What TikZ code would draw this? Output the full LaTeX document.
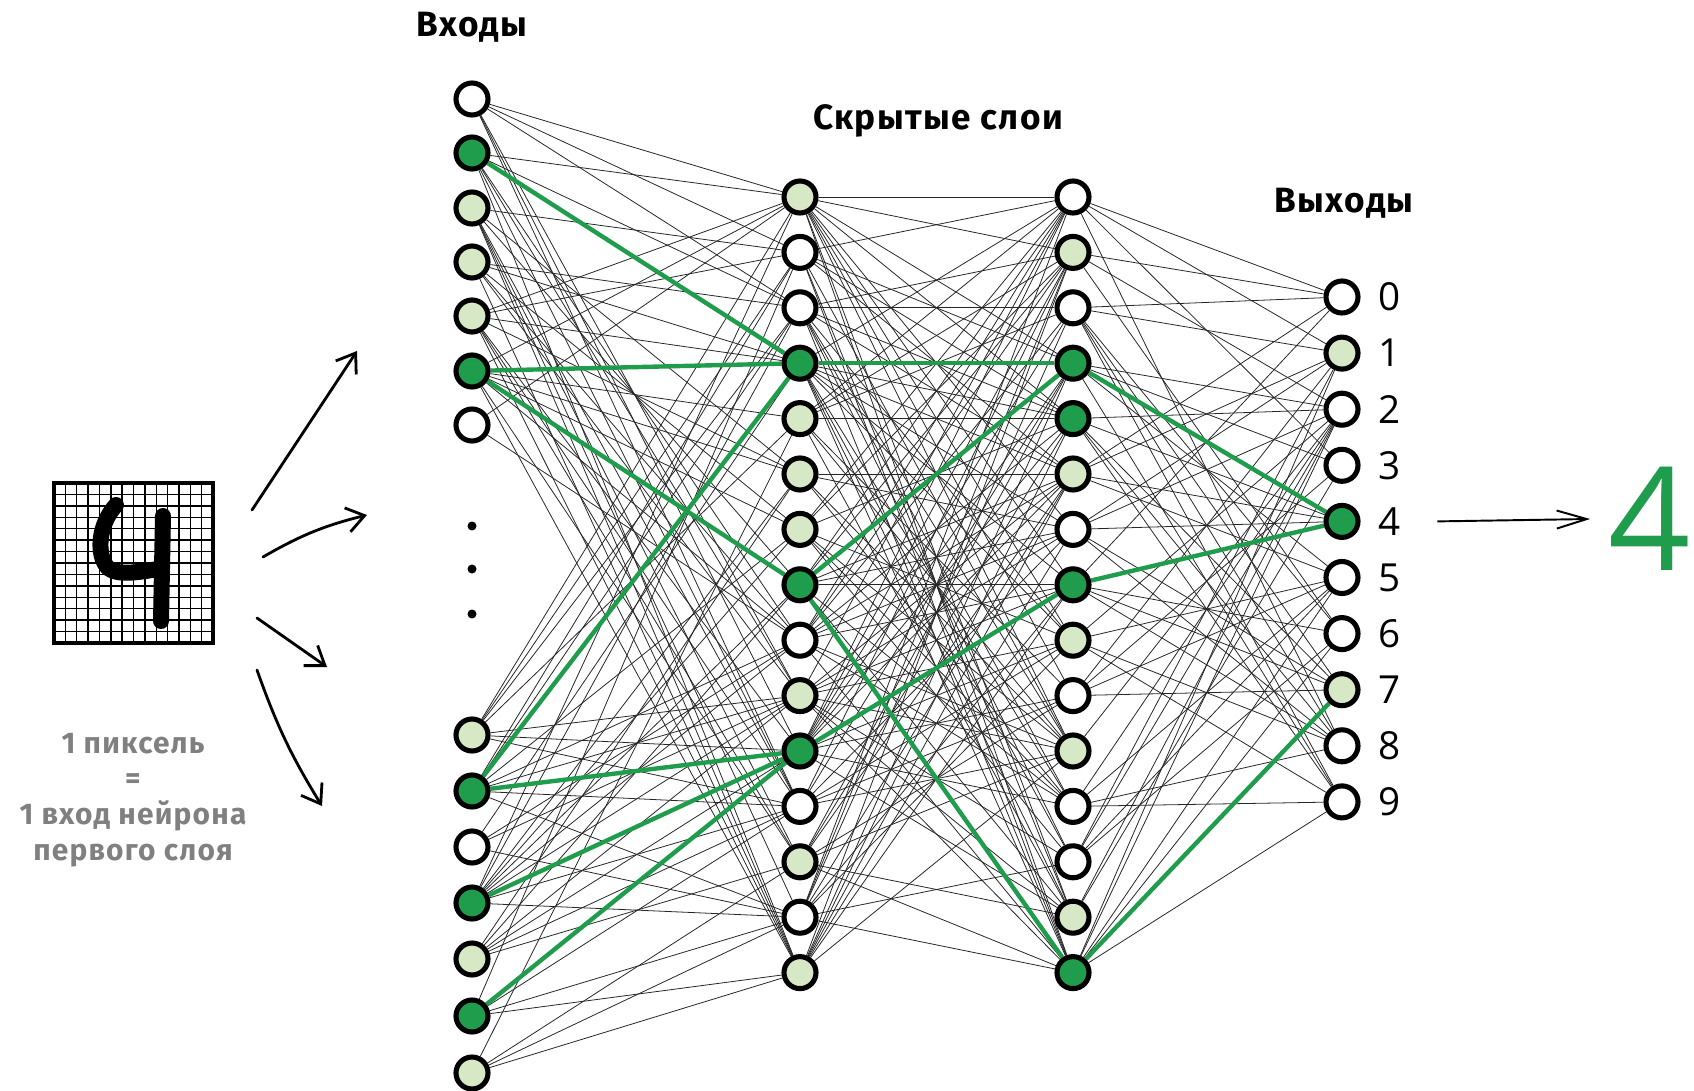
\documentclass[tikz,border=0pt]{standalone}
\usepackage{fontspec}
\setmainfont{Open Sans}
\newfontfamily\handfont{Fira Sans}[LetterSpace=4]
\usetikzlibrary{arrows.meta,backgrounds}

\definecolor{leafdark}{HTML}{1F9D4C}
\definecolor{leaflight}{HTML}{D7E8C6}
\definecolor{chalk}{HTML}{808080}

\tikzset{
  nrn/.style={circle, draw=black, line width=2.9pt, minimum size=0.64cm, inner sep=0pt},
  nrn0/.style={nrn, fill=white},
  nrn1/.style={nrn, fill=leaflight},
  nrn2/.style={nrn, fill=leafdark},
  wire/.style={line width=0.45pt, black!85},
  hotwire/.style={line width=2.5pt, leafdark},
  title/.style={font=\handfont\bfseries\fontsize{20}{24}\selectfont},
  sketch/.style={line width=1.6pt, line cap=round, -{Straight Barb[length=10pt,width=14pt]}},
}

\begin{document}
\begin{tikzpicture}[x=0.02cm, y=-0.02cm]
\useasboundingbox (0,0) rectangle (1694,1091);

% titles
\node [title] (tin) at (472,27) {Входы};
\node [title] (thid) at (938,121) {Скрытые слои};
\node [title] (tout) at (1344,203) {Выходы};

% input layer
\foreach \y/\f [count=\k] in {99/0,153/2,208/1,262/1,316/1,371/2,425/0,
                              735/1,791/2,847/0,903/2,959/1,1016/2,1073/1}
  \node [nrn\f] (in\k) at (472,\y) {};
\fill (472,526) circle (4.5);
\fill (472,569) circle (4.5);
\fill (472,614) circle (4.5);

% hidden layers
\foreach \f [count=\k] in {1,0,0,2,1,1,1,2,0,1,2,0,1,0,1}
  \node [nrn\f] (h\k) at (800,141.6+55.4*\k) {};
\foreach \f [count=\k] in {0,1,0,2,2,1,0,2,1,0,1,0,0,1,2}
  \node [nrn\f] (g\k) at (1073,141.6+55.4*\k) {};

% outputs
\foreach \f [count=\k from 0] in {0,1,0,0,2,0,0,1,0,0} {
  \node [nrn\f] (out\k) at (1342,297+56.1*\k) {};
  \node [font=\fontsize{22}{24}\selectfont] (lab\k) at (1390,297+56.1*\k) {\k};
}

\begin{scope}[on background layer]
  \pgfmathsetseed{11}
  \foreach \a in {1,...,14}
    \foreach \b in {1,...,15} {
      \pgfmathrandominteger{\pick}{1}{100}
      \ifnum\pick<45 \draw [wire] (in\a) -- (h\b); \fi
    }
  \foreach \a in {1,...,15}
    \foreach \b in {1,...,15} {
      \pgfmathrandominteger{\pick}{1}{100}
      \ifnum\pick<50 \draw [wire] (h\a) -- (g\b); \fi
    }
  \foreach \a in {1,...,15}
    \foreach \b in {0,...,9} {
      \pgfmathrandominteger{\pick}{1}{100}
      \ifnum\pick<40 \draw [wire] (g\a) -- (out\b); \fi
    }
  % strongest path
  \foreach \a/\b in {in2/h4,in6/h4,in6/h8,in9/h4,in9/h11,in11/h11,in13/h11,
                     h4/g4,h8/g4,h8/g15,h11/g8,g4/out4,g8/out4,g15/out7}
    \draw [hotwire] (\a) -- (\b);
\end{scope}

% pixel grid with the digit
\foreach \i in {1,...,13} {
  \draw [line width=0.8pt] (54+11.36*\i,483) -- (54+11.36*\i,643);
  \draw [line width=0.8pt] (54,483+11.43*\i) -- (213,483+11.43*\i);
}
\node [draw, line width=2.6pt, minimum width=3.18cm, minimum height=3.2cm] (digit) at (133.5,563) {};
\draw [line width=0.32cm, line cap=round, line join=round]
  (116,505) .. controls (98,525) and (96,555) .. (108,568) .. controls (118,576) and (140,572) .. (158,569);
\draw [line width=0.32cm, line cap=round] (163,516) -- (161,621);

\node [align=center, text=chalk, font=\handfont\bfseries\fontsize{17}{20.4}\selectfont] (note) at (133,800)
  {1 пиксель\\=\\1 вход нейрона\\первого слоя};

% arrows from the picture into the net
\coordinate (s1) at (252,510); \coordinate (e1) at (357,351);
\coordinate (s2) at (263,557); \coordinate (e2) at (367,515);
\coordinate (s3) at (257,618); \coordinate (e3) at (327,667);
\coordinate (s4) at (257,670); \coordinate (e4) at (322,806);
\draw [sketch] (s1) -- (e1);
\draw [sketch] (s2) to[bend left=8] (e2);
\draw [sketch] (s3) -- (e3);
\draw [sketch] (s4) to[bend right=6] (e4);

% answer
\node [text=leafdark, font=\fontsize{82}{90}\selectfont] (answer) at (1650,519) {4};
\draw [line width=1.1pt, -{Straight Barb[length=0.6cm,width=0.36cm]}] ([xshift=0.6cm]lab4.east) -- ([xshift=-0.25cm]answer.west);
\end{tikzpicture}
\end{document}
